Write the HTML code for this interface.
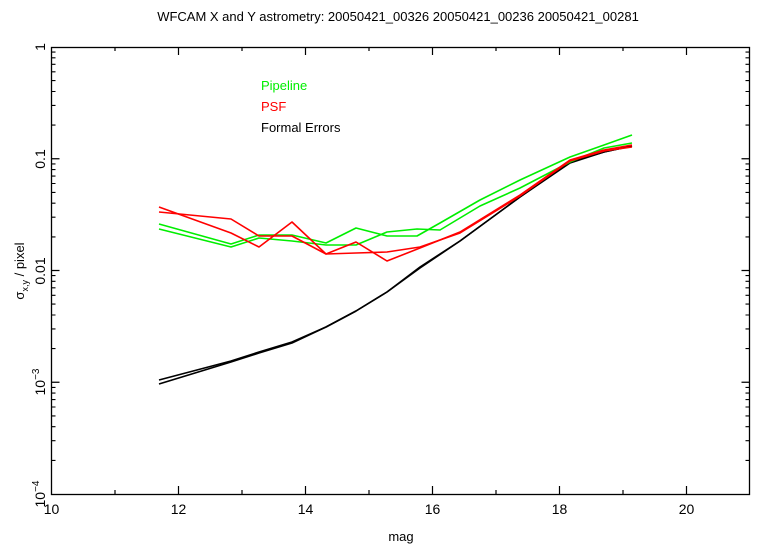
<!DOCTYPE html>
<html><head><meta charset="utf-8"><style>
html,body{margin:0;padding:0;background:#fff;}
svg{display:block;font-family:"Liberation Sans",sans-serif;}
</style></head><body>
<svg width="760" height="553" viewBox="0 0 760 553" xmlns="http://www.w3.org/2000/svg">
<text x="398" y="21" font-size="13" text-anchor="middle">WFCAM X and Y astrometry: 20050421_00326 20050421_00236 20050421_00281</text>
<rect x="51.5" y="47.5" width="698" height="447" fill="none" stroke="#000" stroke-width="1.3"/>
<g stroke="#000" stroke-width="1.2" id="ticks">
<!-- x major -->
<path d="M178.5 494v-8M305.5 494v-8M432.5 494v-8M559.5 494v-8M686.5 494v-8M178.5 47v8M305.5 47v8M432.5 47v8M559.5 47v8M686.5 47v8"/>
<path d="M115 494v-4M242 494v-4M369 494v-4M496 494v-4M623 494v-4M115 47v4M242 47v4M369 47v4M496 47v4M623 47v4"/>
<!-- y major -->
<path d="M51.5 158.75h8M51.5 270.5h8M51.5 382.25h8M749.5 158.75h-8M749.5 270.5h-8M749.5 382.25h-8"/>
</g>
<g stroke="#000" stroke-width="1.1" id="minor"></g>
<g font-size="14" text-anchor="middle">
<text x="51.5" y="514">10</text><text x="178.5" y="514">12</text><text x="305.5" y="514">14</text>
<text x="432.5" y="514">16</text><text x="559.5" y="514">18</text><text x="686.5" y="514">20</text>
<text x="401" y="541" font-size="13">mag</text>
</g>
<g font-size="14" text-anchor="middle">
<text transform="translate(45,47) rotate(-90)">1</text>
<text transform="translate(45,159) rotate(-90)">0.1</text>
<text transform="translate(45,271) rotate(-90)">0.01</text>
<text transform="translate(45,382) rotate(-90)">10<tspan font-size="10" dy="-6">−3</tspan></text>
<text transform="translate(45,494) rotate(-90)">10<tspan font-size="10" dy="-6">−4</tspan></text>
<text transform="translate(24,271) rotate(-90)" font-size="13">σ<tspan font-size="9" dy="4">x,y</tspan><tspan dy="-4"> / pixel</tspan></text>
</g>
<g font-size="13">
<text x="261" y="90" fill="#00ee00">Pipeline</text>
<text x="261" y="111" fill="#ff0000">PSF</text>
<text x="261" y="132" fill="#000">Formal Errors</text>
</g>
<g fill="none" stroke-width="1.6" stroke-linejoin="round">
<polyline stroke="#000" points="159,380 231,361 259,352 292,342 326,327 356,311 387,292 420,267 460,241 520,197 570,162 604,152 632,146"/>
<polyline stroke="#000" points="159,384 231,362 259,353 292,343 326,327 356,311 387,292 420,268 460,241 520,197 570,163 604,152 632,146"/>
<polyline stroke="#00ee00" points="159,224 231,244 259,235 292,235 326,243 356,228 387,236 417,236 440,223 480,200 520,180 570,157 604,145 632,135"/>
<polyline stroke="#00ee00" points="159,229 231,247 259,238 292,241 326,245 356,245 387,232 417,229 440,230 480,206 520,188 570,162 604,148 632,143"/>
<polyline stroke="#ff0000" points="159,207 231,233 259,247 292,222 326,254 356,242 387,261 420,248 460,232 520,195 570,160 604,150 632,145"/>
<polyline stroke="#ff0000" points="159,212 231,219 259,236 292,236 326,254 356,253 387,252 420,247 460,233 520,196 570,161 604,151 632,147"/>
</g>
<script>
var g=document.getElementById('minor'),d='';
for(var k=0;k<4;k++){var base=47+111.75*k;for(var i=2;i<=9;i++){var y=(base+111.75*(1-Math.log10(i))).toFixed(1);d+='M51.5 '+y+'h4M749.5 '+y+'h-4';}}
var p=document.createElementNS('http://www.w3.org/2000/svg','path');p.setAttribute('d',d);g.appendChild(p);
</script>
</svg>
</body></html>
